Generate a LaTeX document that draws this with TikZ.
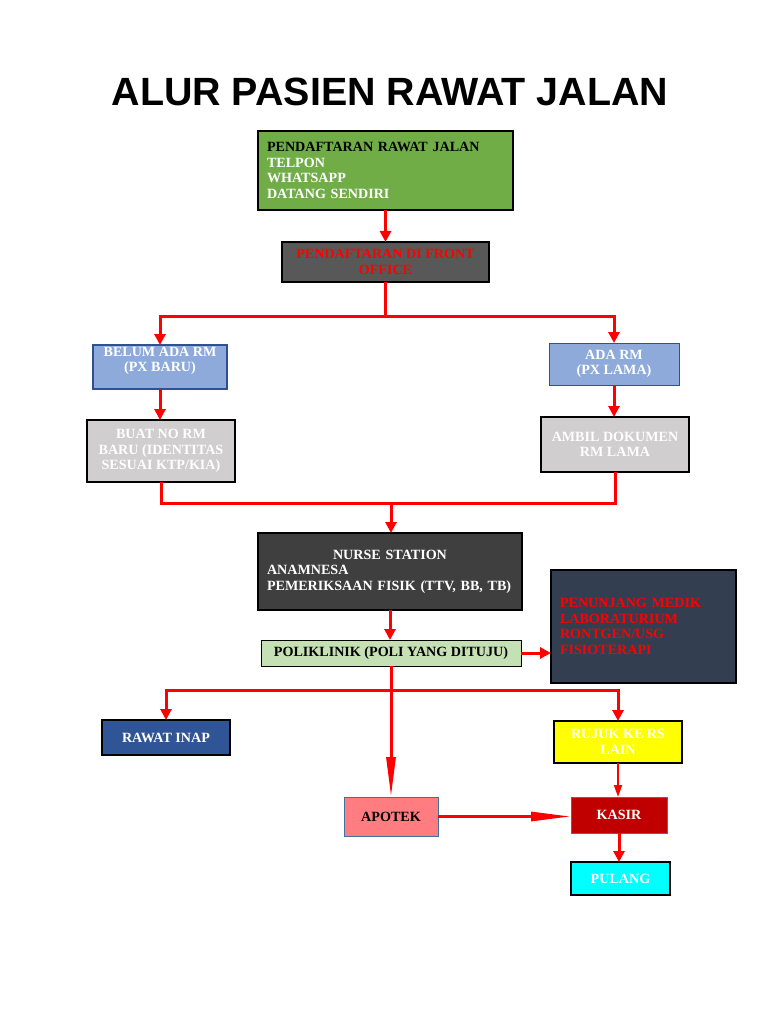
\documentclass[tikz,border=0pt]{standalone}
\usepackage{fontspec}
\setmainfont{Liberation Serif}
\newfontfamily\titlefont{Liberation Sans}
\usetikzlibrary{arrows.meta}
\definecolor{cGreen}{HTML}{70AD47}
\definecolor{cFO}{HTML}{585858}
\definecolor{cBlue}{HTML}{8EAADB}
\definecolor{cBlueB}{HTML}{2F528F}
\definecolor{cGray}{HTML}{D0CECE}
\definecolor{cNurse}{HTML}{3F3F3F}
\definecolor{cPoli}{HTML}{C5E0B4}
\definecolor{cPen}{HTML}{333F50}
\definecolor{cRawat}{HTML}{2F5597}
\definecolor{cRujuk}{HTML}{FFFF00}
\definecolor{cApotek}{HTML}{FF7C80}
\definecolor{cSlateB}{HTML}{41719C}
\definecolor{cKasir}{HTML}{C00000}
\definecolor{cPulang}{HTML}{00FFFF}
\definecolor{cRed}{HTML}{FF0000}
\tikzset{
  bx/.style={draw=black, line width=1.3pt, inner sep=0pt, outer sep=0pt,
    font=\fontsize{14.1}{15.5}\selectfont\bfseries, align=center},
  txt/.style={inner sep=0pt, font=\fontsize{14.1}{15.5}\selectfont\bfseries, align=center},
  ln/.style={draw=cRed, line width=3pt},
  arr/.style={draw=cRed, line width=3pt, -{Triangle[length=11pt,width=11pt]}},
  thinarr/.style={draw=cRed, line width=2pt, -{Triangle[length=12pt,width=8pt]}},
  longarr/.style={draw=cRed, line width=3pt, -{Triangle[length=40pt,width=9pt]}},
}
\begin{document}
\begin{tikzpicture}[x=1pt,y=-1pt]
\useasboundingbox[fill=white] (0,0) rectangle (768,1024);

\node[inner sep=0pt, font=\titlefont\fontsize{39.4}{41}\selectfont\bfseries, anchor=base] (title) at (390,106) {ALUR PASIEN RAWAT JALAN};

% boxes
\node[bx, fill=cGreen, minimum width=255pt, minimum height=79pt, text width=237pt, align=left] (green) at (385.5,170.5)
  {\textcolor{black}{PENDAFTARAN RAWAT JALAN}\\\textcolor{white}{TELPON}\\\textcolor{white}{WHATSAPP}\\\textcolor{white}{DATANG SENDIRI}};
\node[bx, fill=cFO, minimum width=207pt, minimum height=40pt, text=cRed] (fo) at (385.5,262) {PENDAFTARAN DI FRONT\\OFFICE};

\node[bx, draw=cBlueB, fill=cBlue, minimum width=134pt, minimum height=44pt] (belum) at (160,367) {};
\node[txt, text=white] (belumtxt) at (160,361) {BELUM ADA RM\\(PX BARU)};
\node[bx, draw=cBlueB, line width=0.8pt, fill=cBlue, minimum width=130pt, minimum height=42pt, text=white] (ada) at (614,364) {ADA RM\\(PX LAMA)};

\node[bx, fill=cGray, minimum width=148pt, minimum height=62pt, text=white] (buat) at (161,451) {BUAT NO RM\\BARU (IDENTITAS\\SESUAI KTP/KIA)};
\node[bx, fill=cGray, minimum width=148pt, minimum height=55pt, text=white] (ambil) at (615,444.5) {AMBIL DOKUMEN\\RM LAMA};

\node[bx, fill=cNurse, minimum width=264pt, minimum height=77pt, text=white, text width=246pt, align=left] (nurse) at (390,571.5)
  {\makebox[246pt][c]{NURSE STATION}\\ANAMNESA\\PEMERIKSAAN FISIK (TTV, BB, TB)};
\node[bx, line width=1pt, fill=cPoli, minimum width=260pt, minimum height=26pt, text=black] (poli) at (391,653) {POLIKLINIK (POLI YANG DITUJU)};
\node[bx, fill=cPen, minimum width=185pt, minimum height=113pt, text=cRed, text width=167pt, align=left] (pen) at (643.5,626.5)
  {PENUNJANG MEDIK\\LABORATURIUM\\RONTGEN/USG\\FISIOTERAPI};

\node[bx, fill=cRawat, minimum width=128pt, minimum height=35pt, text=white] (rawat) at (166,737.5) {RAWAT INAP};
\node[bx, fill=cRujuk, minimum width=128pt, minimum height=42pt, text=white] (rujuk) at (618,742) {RUJUK KE RS\\LAIN};
\node[bx, draw=cSlateB, line width=1pt, fill=cApotek, minimum width=94pt, minimum height=39pt, text=black] (apotek) at (391,816.5) {APOTEK};
\node[bx, draw=cSlateB, line width=1pt, fill=cKasir, minimum width=96pt, minimum height=36pt, text=white] (kasir) at (619,815) {KASIR};
\node[bx, fill=cPulang, minimum width=99pt, minimum height=33pt, text=white] (pulang) at (620.5,878.5) {PULANG};

% junctions
\coordinate (j1) at (385.5,316);
\coordinate (j2) at (391,503);
\coordinate (j3) at (391,690);

% connectors
\draw[arr] (green.south) -- (fo.north);
\draw[ln] (fo.south) -- (j1);
\draw[arr] (j1) -| (belum.north);
\draw[arr] (j1) -| (ada.north);
\draw[arr] (belum.south) -- (belum.south |- buat.north);
\draw[arr] (ada.south) -- (ada.south |- ambil.north);
\draw[ln] (buat.south) |- (j2) -| (ambil.south);
\draw[arr] (j2) -- (j2 |- nurse.north);
\draw[arr] (nurse.south) -- (nurse.south |- poli.north);
\draw[arr] (poli.east) -- (pen.west |- poli.east);
\draw[ln] (poli.south) -- (j3);
\draw[arr] (j3) -| (rawat.north);
\draw[arr] (j3) -| (rujuk.north);
\draw[longarr] (j3) -- (apotek.north);
\draw[longarr] (apotek.east) -- (kasir.west |- apotek.east);
\draw[thinarr] (rujuk.south) -- (rujuk.south |- kasir.north);
\draw[arr] (kasir.south) -- (kasir.south |- pulang.north);
\end{tikzpicture}
\end{document}
